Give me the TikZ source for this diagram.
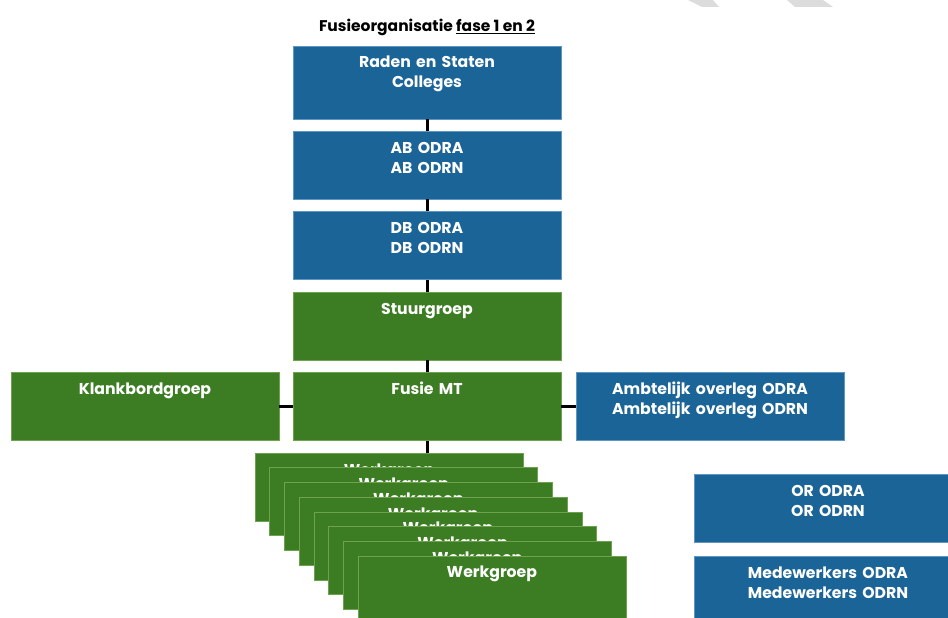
\documentclass[tikz,border=0pt]{standalone}
\usepackage{fontspec}
\setmainfont{Poppins}
\usetikzlibrary{positioning}

\definecolor{odblue}{HTML}{1B6497}
\definecolor{odgreen}{HTML}{3C7D23}
\definecolor{odblueline}{HTML}{5F97C2}
\definecolor{odgreenline}{HTML}{6FA24F}
\definecolor{odgrey}{HTML}{DCDCDC}

\newcommand\boxfont{\fontsize{15.7}{20}\selectfont\bfseries}
\newcommand\titlefont{\fontsize{15.5}{18}\selectfont\bfseries}

\begin{document}
\begin{tikzpicture}[x=1pt, y=-1pt, node distance=80.5pt, on grid,
    box/.style={rectangle, line width=0.6pt, text=white, font=\boxfont,
      text width=260pt, align=center, inner xsep=4pt, inner ysep=4pt,
      text height=18pt, text depth=42pt},
    bluebox/.style={box, fill=odblue, draw=odblueline},
    greenbox/.style={box, fill=odgreen, draw=odgreenline},
    link/.style={line width=3pt}]

    \useasboundingbox (0,0) rectangle (948,618);
    \clip (0,0) rectangle (948,618);

    % grijze restjes bovenaan
    \fill[odgrey] (688,0) -- (713,0) -- (719,7) -- (702,7) -- cycle;
    \fill[odgrey] (787,0) -- (823,0) -- (833,7) -- (795,7) -- cycle;

    \node[anchor=base, font=\titlefont] (titel) at (427,32) {Fusieorganisatie \underline{fase 1 en 2}};

    % hoofdlijn
    \node[bluebox, text depth=47pt] (raden) at (427,82.5) {Raden en Staten\\Colleges};
    \node[bluebox, below=82.5pt of raden] (ab) {AB ODRA\\AB ODRN};
    \node[bluebox, below=of ab] (db) {DB ODRA\\DB ODRN};
    \node[greenbox, below=of db] (stuur) {Stuurgroep};
    \node[greenbox, below=of stuur] (fusie) {Fusie MT};
    \node[greenbox, left=282pt of fusie] (klank) {Klankbordgroep};
    \node[bluebox, right=283pt of fusie] (ambt) {Ambtelijk overleg ODRA\\Ambtelijk overleg ODRN};

    % werkgroepen
    \node[greenbox, below=of fusie, xshift=-38pt] (wg1) {Werkgroep};
    \foreach \i [remember=\i as \j (initially 1)] in {2,...,8}
        \node[greenbox, below right=14.7pt and 14.7pt of wg\j] (wg\i) {Werkgroep};

    \node[bluebox, below=102pt of ambt, xshift=118pt] (or) {OR ODRA\\OR ODRN};
    \node[bluebox, below=82pt of or] (mw) {Medewerkers ODRA\\Medewerkers ODRN};

    % verbindingen
    \draw[link] (raden) -- (ab);
    \draw[link] (ab) -- (db);
    \draw[link] (db) -- (stuur);
    \draw[link] (stuur) -- (fusie);
    \draw[link] (klank) -- (fusie);
    \draw[link] (fusie) -- (ambt);
    \draw[link] (fusie.south) -- (fusie.south |- wg1.north);

\end{tikzpicture}
\end{document}
